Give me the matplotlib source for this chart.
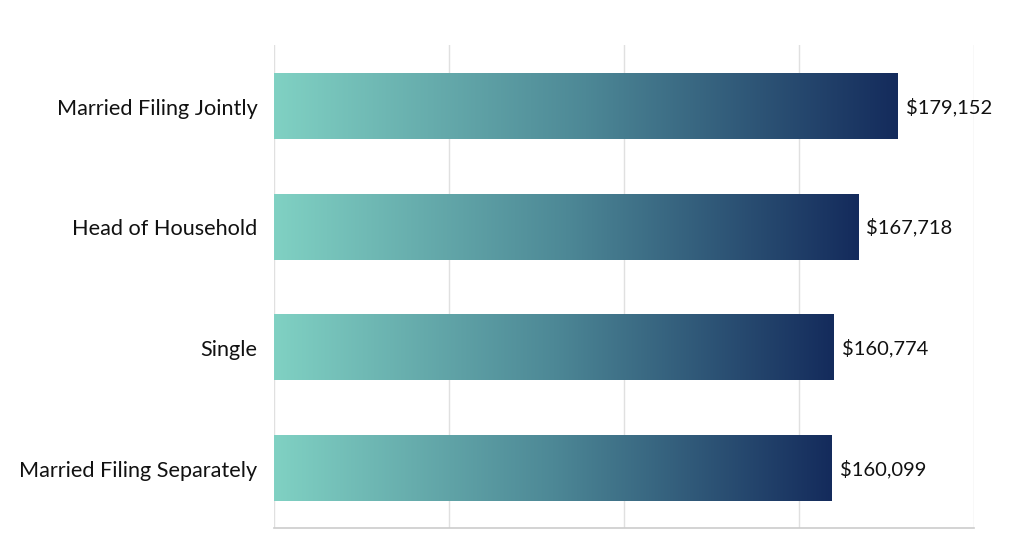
import matplotlib
matplotlib.use("Agg")
import matplotlib.pyplot as plt
import numpy as np
from matplotlib.colors import LinearSegmentedColormap

categories = ["Married Filing Jointly", "Head of Household", "Single", "Married Filing Separately"]
values = [179152, 167718, 160774, 160099]
labels = ["$179,152", "$167,718", "$160,774", "$160,099"]

plt.rcParams['font.family'] = ['Lato', 'DejaVu Sans']

fig = plt.figure(figsize=(10.24, 5.59), dpi=100)
ax = fig.add_axes([274/1024, 31/559, 700/1024, 483/559])

cmap = LinearSegmentedColormap.from_list("g", ["#80d1c3", "#4d8896", "#142b5c"])
grad = np.linspace(0, 1, 256).reshape(1, -1)
h = 0.545
for i, (v, lab) in enumerate(zip(values, labels)):
    ax.imshow(grad, cmap=cmap, aspect='auto', extent=[0, v, i + h/2 + 0.005, i - h/2 + 0.005],
              interpolation='bilinear', zorder=2)
    ax.text(v + 2300, i + 0.01, lab, va='center', ha='left', fontsize=14.5, color='#111111')

ax.set_xlim(0, 201000)
ax.set_ylim(3.5, -0.5)
ax.set_yticks([i + 0.01 for i in range(len(categories))])
ax.set_yticklabels(categories, fontsize=15.6, color='#111111')
ax.tick_params(axis='y', length=0, pad=12)
ax.set_xticks([0, 50250, 100500, 150750, 201000])
ax.tick_params(axis='x', length=0, labelbottom=False)
ax.grid(axis='x', color='#e0e0e0', linewidth=1, zorder=0)
for s in ['top', 'right', 'left']:
    ax.spines[s].set_visible(False)
ax.spines['bottom'].set_color('#cccccc')
ax.spines['bottom'].set_linewidth(1.2)
ax.set_axisbelow(True)

fig.savefig("out.png", dpi=100, facecolor='white')
